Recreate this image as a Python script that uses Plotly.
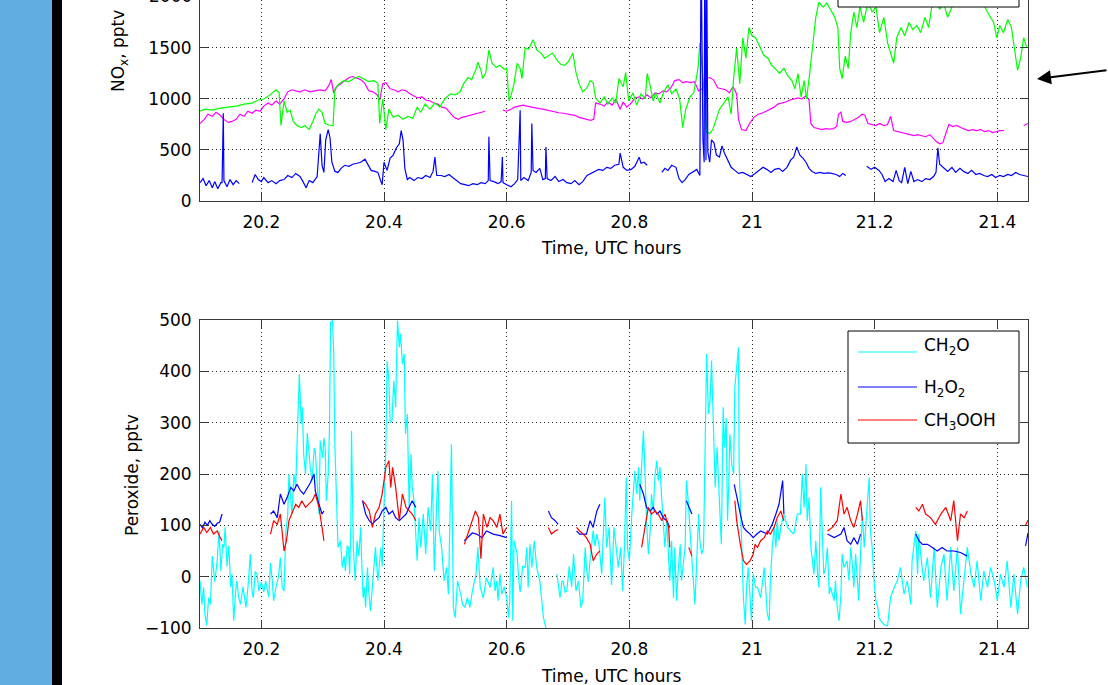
import plotly.graph_objects as go

# ---------------- data ----------------
TICK_X = [20.2, 20.4, 20.6, 20.8, 21.0, 21.2, 21.4]
TICK_X_TEXT = ["20.2", "20.4", "20.6", "20.8", "21", "21.2", "21.4"]
TICK_Y_NOX = [0, 500, 1000, 1500]
TICK_Y_PER = [-100, 0, 100, 200, 300, 400, 500]
X_RANGE = [20.1, 21.45]
NOX_RANGE = [0, 1970]
PER_RANGE = [-100, 500]

NOX_GREEN = [
    (20.100, 880), (20.108, 900), (20.120, 890), (20.133, 910), (20.146, 920), (20.159, 930), (20.172, 950),
    (20.185, 960), (20.195, 990), (20.204, 1000), (20.214, 1040), (20.224, 1090), (20.229, 1060), (20.232, 740),
    (20.237, 980), (20.242, 870), (20.247, 890), (20.252, 780), (20.258, 740), (20.265, 720), (20.271, 740),
    (20.278, 700), (20.284, 780), (20.289, 860), (20.294, 900), (20.299, 870), (20.304, 760), (20.310, 745),
    (20.317, 740), (20.320, 1100), (20.327, 1150), (20.335, 1180), (20.343, 1170), (20.351, 1200), (20.359, 1220),
    (20.368, 1190), (20.375, 1170), (20.384, 1180), (20.390, 1150), (20.393, 760), (20.398, 1000), (20.403, 700),
    (20.408, 900), (20.415, 820), (20.423, 840), (20.431, 800), (20.439, 830), (20.447, 810), (20.454, 920),
    (20.460, 870), (20.467, 950), (20.475, 900), (20.483, 960), (20.491, 920), (20.499, 1000), (20.508, 1050),
    (20.516, 1040), (20.524, 1070), (20.530, 1150), (20.537, 1210), (20.543, 1190), (20.550, 1290), (20.553, 1360),
    (20.558, 1280), (20.561, 1200), (20.566, 1260), (20.571, 1480), (20.576, 1350), (20.583, 1310), (20.589, 1330),
    (20.596, 1290), (20.600, 1300), (20.604, 980), (20.607, 1030), (20.612, 1150), (20.617, 1350), (20.622, 1300),
    (20.625, 1200), (20.630, 1500), (20.636, 1490), (20.643, 1580), (20.649, 1480), (20.656, 1450), (20.662, 1400),
    (20.669, 1430), (20.675, 1450), (20.682, 1380), (20.688, 1340), (20.695, 1330), (20.701, 1370), (20.708, 1450),
    (20.713, 1260), (20.718, 1150), (20.724, 1070), (20.731, 1110), (20.736, 1180), (20.741, 1160), (20.745, 1010),
    (20.752, 960), (20.759, 1020), (20.765, 950), (20.772, 1010), (20.778, 960), (20.783, 1200), (20.790, 1120),
    (20.794, 1260), (20.799, 980), (20.806, 1060), (20.812, 940), (20.819, 1050), (20.826, 1000), (20.829, 1250),
    (20.834, 1130), (20.839, 980), (20.843, 1060), (20.850, 960), (20.856, 1070), (20.863, 1140), (20.869, 1050),
    (20.876, 1100), (20.882, 1000), (20.887, 720), (20.892, 900), (20.899, 1020), (20.905, 1060), (20.912, 1300),
    (20.915, 1550), (20.920, 1250), (20.923, 1000), (20.926, 680), (20.931, 660), (20.936, 700), (20.941, 800),
    (20.947, 900), (20.954, 960), (20.961, 1020), (20.966, 850), (20.970, 1200), (20.975, 1500), (20.980, 1150),
    (20.985, 1600), (20.990, 1400), (20.995, 1700), (21.000, 1620), (21.006, 1600), (21.013, 1500), (21.019, 1430),
    (21.026, 1400), (21.032, 1330), (21.039, 1290), (21.045, 1250), (21.052, 1300), (21.058, 1230), (21.065, 1180),
    (21.070, 1100), (21.075, 1250), (21.080, 1020), (21.085, 1180), (21.089, 1000), (21.094, 1250), (21.099, 1550),
    (21.104, 1800), (21.109, 1950), (21.116, 1900), (21.122, 1940), (21.129, 1870), (21.135, 1800), (21.140, 1700),
    (21.143, 1300), (21.147, 1200), (21.152, 1420), (21.157, 1300), (21.161, 1650), (21.166, 1850), (21.171, 1700),
    (21.176, 1900), (21.182, 1750), (21.189, 1950), (21.196, 1850), (21.202, 1900), (21.208, 1650), (21.215, 1800),
    (21.221, 1550), (21.226, 1450), (21.231, 1350), (21.236, 1600), (21.243, 1700), (21.249, 1620), (21.256, 1750),
    (21.262, 1680), (21.269, 1720), (21.275, 1650), (21.282, 1800), (21.288, 1700), (21.293, 1900), (21.300, 1950),
    (21.306, 1880), (21.313, 1930), (21.319, 1800), (21.326, 1900), (21.332, 1960), (21.339, 1950), (21.347, 1960),
    (21.355, 1940), (21.363, 1960), (21.371, 1950), (21.378, 1920), (21.384, 1850), (21.389, 1800), (21.394, 1750),
    (21.399, 1600), (21.404, 1720), (21.410, 1650), (21.417, 1780), (21.423, 1700), (21.428, 1500), (21.433, 1280),
    (21.438, 1400), (21.443, 1600), (21.448, 1500),
]

NOX_MAGENTA = [
    (20.100, 760), (20.107, 800), (20.113, 850), (20.120, 830), (20.126, 870), (20.133, 840), (20.139, 800),
    (20.146, 770), (20.152, 780), (20.159, 800), (20.165, 850), (20.172, 830), (20.178, 880), (20.185, 860),
    (20.191, 890), (20.198, 880), (20.204, 930), (20.211, 960), (20.217, 940), (20.224, 980), (20.230, 950),
    (20.237, 1000), (20.243, 1070), (20.250, 1090), (20.256, 1080), (20.263, 1070), (20.271, 1090), (20.279, 1070),
    (20.287, 1080), (20.296, 1090), (20.304, 1080), (20.310, 1130), (20.314, 1190), (20.318, 1060), (20.323, 1120),
    (20.330, 1150), (20.336, 1180), (20.343, 1210), (20.349, 1220), (20.356, 1200), (20.362, 1190), (20.369, 1150),
    (20.375, 1080), (20.382, 1070), (20.389, 1040), (20.393, 990), (20.398, 1150), (20.403, 1160), (20.410, 1100),
    (20.416, 1090), (20.423, 1070), (20.429, 1090), (20.436, 1080), (20.442, 1050), (20.449, 1030), (20.455, 1010),
    (20.462, 1020), (20.468, 990), (20.475, 980), (20.481, 960), (20.488, 950), (20.494, 920), (20.501, 910),
    (20.508, 860), (20.514, 820), (20.521, 800), (20.527, 820), (20.534, 830), (20.540, 840), (20.547, 850),
    (20.553, 860), (20.560, 870), (20.565, 880), None,
    (20.594, 890), (20.600, 880), (20.607, 900), (20.613, 920), (20.620, 930), (20.627, 940), (20.633, 930),
    (20.640, 920), (20.646, 910), (20.653, 905), (20.659, 900), (20.666, 890), (20.672, 880), (20.679, 870),
    (20.685, 865), (20.692, 860), (20.698, 855), (20.705, 850), (20.711, 840), (20.718, 820), (20.724, 810),
    (20.731, 800), (20.737, 790), (20.742, 800), (20.745, 960), (20.752, 950), (20.759, 930), (20.765, 970),
    (20.772, 940), (20.778, 1000), (20.785, 900), (20.790, 970), (20.796, 920), (20.803, 960), (20.809, 1010),
    (20.816, 1020), (20.822, 1000), (20.829, 1040), (20.835, 1010), (20.842, 1060), (20.848, 1050), (20.855, 1080),
    (20.861, 1070), (20.868, 1110), (20.874, 1180), (20.881, 1190), (20.887, 1160), (20.893, 1170), (20.900, 1160),
    (20.906, 1170), (20.913, 1080), (20.919, 1100), (20.924, 1200), (20.931, 1210), (20.937, 1190), (20.944, 1110),
    (20.950, 1100), (20.957, 1090), (20.963, 1060), (20.969, 1120), (20.975, 1050), (20.978, 800), (20.983, 700),
    (20.990, 690), (20.996, 760), (21.003, 820), (21.010, 850), (21.016, 860), (21.023, 880), (21.029, 900),
    (21.036, 920), (21.042, 950), (21.049, 960), (21.055, 970), (21.062, 990), (21.068, 1000), (21.075, 1010),
    (21.081, 1000), (21.088, 1030), (21.093, 990), (21.096, 760), (21.101, 720), (21.107, 710), (21.114, 700),
    (21.120, 710), (21.127, 705), (21.133, 710), (21.138, 730), (21.141, 850), (21.145, 870), (21.148, 780),
    (21.154, 770), (21.161, 780), (21.168, 800), (21.174, 820), (21.179, 850), (21.184, 840), (21.189, 760),
    (21.196, 750), (21.202, 740), (21.208, 760), (21.215, 740), (21.221, 750), (21.226, 830), (21.231, 690),
    (21.238, 680), (21.244, 670), (21.251, 660), (21.257, 650), (21.264, 640), (21.270, 650), (21.277, 640),
    (21.283, 630), (21.290, 650), (21.296, 610), (21.301, 580), (21.306, 560), (21.311, 570), (21.316, 660),
    (21.321, 750), (21.327, 730), (21.334, 740), (21.340, 720), (21.347, 700), (21.353, 690), (21.360, 700),
    (21.366, 690), (21.373, 700), (21.379, 680), (21.386, 690), (21.392, 670), (21.399, 680), (21.404, 690),
    (21.411, 690), None,
    (21.443, 740), (21.450, 760),
]

NOX_BLUE = [
    (20.100, 180), (20.105, 220), (20.110, 150), (20.115, 200), (20.120, 130), (20.124, 190), (20.129, 120),
    (20.134, 180), (20.136, 180), (20.138, 860), (20.139, 200), (20.144, 140), (20.149, 210), (20.154, 160),
    (20.159, 200), (20.164, 170), None,
    (20.185, 180), (20.190, 260), (20.195, 210), (20.200, 190), (20.204, 230), (20.211, 180), (20.217, 200),
    (20.224, 170), (20.230, 200), (20.237, 210), (20.243, 250), (20.250, 230), (20.256, 270), (20.263, 240),
    (20.268, 190), (20.273, 130), (20.278, 200), (20.284, 180), (20.291, 240), (20.294, 520), (20.296, 660),
    (20.299, 350), (20.302, 280), (20.305, 600), (20.309, 700), (20.312, 620), (20.315, 380), (20.320, 290),
    (20.325, 280), (20.330, 320), (20.336, 350), (20.343, 340), (20.349, 360), (20.356, 370), (20.362, 380),
    (20.369, 410), (20.374, 360), (20.379, 300), (20.385, 290), (20.390, 280), (20.395, 190), (20.397, 160),
    (20.400, 380), (20.405, 300), (20.410, 420), (20.415, 450), (20.420, 520), (20.425, 560), (20.428, 690),
    (20.431, 600), (20.434, 320), (20.438, 210), (20.442, 230), (20.449, 200), (20.455, 230), (20.462, 220),
    (20.468, 250), (20.475, 230), (20.480, 290), (20.483, 430), (20.486, 250), (20.493, 250), (20.499, 240),
    (20.506, 260), (20.512, 230), (20.519, 200), (20.525, 170), (20.532, 160), (20.538, 150), (20.545, 170),
    (20.552, 160), (20.558, 180), (20.565, 170), (20.570, 200), (20.571, 630), (20.573, 200), (20.579, 190),
    (20.586, 170), (20.591, 190), (20.593, 430), (20.594, 180), (20.600, 160), (20.607, 140), (20.613, 170),
    (20.618, 210), (20.622, 890), (20.623, 200), (20.628, 230), (20.635, 200), (20.640, 280), (20.641, 760),
    (20.643, 300), (20.648, 280), (20.654, 320), (20.659, 210), (20.663, 220), (20.664, 530), (20.666, 220),
    (20.672, 200), (20.679, 240), (20.685, 190), (20.692, 210), (20.698, 180), (20.705, 170), (20.711, 200),
    (20.718, 160), (20.724, 190), (20.731, 250), (20.737, 270), (20.744, 290), (20.750, 310), (20.757, 300),
    (20.763, 330), (20.770, 320), (20.776, 350), (20.783, 360), (20.785, 470), (20.790, 330), (20.796, 300),
    (20.803, 310), (20.809, 340), (20.816, 430), (20.819, 370), (20.824, 380), (20.829, 350), None,
    (20.853, 280), (20.858, 320), (20.863, 300), (20.869, 350), (20.876, 330), (20.881, 220), (20.886, 180),
    (20.891, 210), (20.897, 260), (20.904, 290), (20.910, 310), (20.915, 250), (20.917, 2500), (20.920, 600),
    (20.922, 380), (20.923, 2500), (20.925, 400), (20.926, 2500), (20.928, 480), (20.931, 380), (20.934, 600),
    (20.938, 570), (20.942, 450), (20.947, 430), (20.951, 540), (20.955, 470), (20.960, 410), (20.966, 330),
    (20.972, 300), (20.978, 270), (20.985, 280), (20.991, 260), (20.998, 240), (21.005, 270), (21.011, 300),
    (21.018, 330), (21.024, 310), (21.031, 280), (21.037, 310), (21.044, 320), (21.050, 290), (21.057, 330),
    (21.063, 400), (21.068, 430), (21.073, 530), (21.078, 450), (21.083, 420), (21.088, 380), (21.093, 320),
    (21.098, 290), (21.104, 270), (21.111, 280), (21.117, 270), (21.124, 275), (21.130, 270), (21.137, 260),
    (21.143, 240), (21.148, 270), (21.153, 250), None,
    (21.187, 340), (21.194, 310), (21.200, 330), (21.207, 300), (21.212, 260), (21.217, 190), (21.223, 220),
    (21.230, 190), (21.235, 300), (21.240, 200), (21.244, 180), (21.249, 330), (21.254, 170), (21.259, 290),
    (21.264, 190), (21.270, 210), (21.277, 190), (21.283, 220), (21.290, 210), (21.296, 240), (21.300, 280),
    (21.303, 520), (21.306, 360), (21.313, 320), (21.319, 290), (21.326, 330), (21.332, 280), (21.339, 320),
    (21.345, 290), (21.352, 270), (21.358, 300), (21.365, 260), (21.371, 270), (21.378, 250), (21.384, 240),
    (21.391, 260), (21.397, 230), (21.404, 250), (21.410, 240), (21.417, 260), (21.423, 250), (21.430, 280),
    (21.436, 260), (21.443, 250), (21.450, 240),
]

CH2O = [
    (20.100, -8), (20.103, -54), (20.106, -21), (20.108, -73), (20.111, -95), (20.114, -41), (20.117, -54),
    (20.120, 40), (20.124, -10), (20.128, 31), (20.131, 89), (20.134, 11), (20.137, 63), (20.139, 57),
    (20.141, 96), (20.144, 20), (20.147, 60), (20.150, -20), (20.152, 5), (20.155, -86), (20.158, -30),
    (20.160, -8), (20.163, -40), (20.166, -54), (20.170, -20), (20.175, -60), (20.179, -10), (20.182, 44),
    (20.185, -30), (20.187, -41), (20.190, 10), (20.193, 5), (20.196, -28), (20.200, -10), (20.204, -30),
    (20.207, -8), (20.212, -40), (20.215, 27), (20.218, -10), (20.220, -47), (20.224, -20), (20.228, 0),
    (20.231, 37), (20.234, -20), (20.237, -28), (20.240, 89), (20.243, 120), (20.245, 200), (20.248, 150),
    (20.250, 122), (20.253, 200), (20.256, 174), (20.258, 250), (20.260, 323), (20.262, 395), (20.265, 297),
    (20.267, 330), (20.269, 239), (20.272, 200), (20.275, 280), (20.277, 245), (20.280, 210), (20.283, 187),
    (20.286, 250), (20.288, 245), (20.291, 187), (20.294, 122), (20.296, 265), (20.300, 232), (20.302, 270),
    (20.304, 252), (20.306, 148), (20.309, 200), (20.311, 284), (20.313, 495), (20.316, 499), (20.318, 440),
    (20.320, 252), (20.322, 154), (20.325, 57), (20.329, 70), (20.332, 18), (20.335, 40), (20.337, 11),
    (20.340, 60), (20.342, 57), (20.344, 5), (20.346, 100), (20.347, 284), (20.349, 150), (20.350, 57),
    (20.353, -8), (20.356, 70), (20.359, 40), (20.362, 96), (20.364, 20), (20.366, -41), (20.368, -20),
    (20.370, -60), (20.373, 18), (20.375, -28), (20.378, -67), (20.381, -21), (20.384, 20), (20.386, 57),
    (20.390, -8), (20.393, 30), (20.395, 57), (20.397, 20), (20.399, 89), (20.401, 180), (20.403, 252),
    (20.405, 420), (20.408, 382), (20.410, 300), (20.413, 304), (20.416, 382), (20.419, 330), (20.422, 499),
    (20.425, 447), (20.427, 473), (20.430, 414), (20.433, 434), (20.435, 278), (20.438, 317), (20.441, 135),
    (20.444, 239), (20.446, 174), (20.449, 148), (20.452, 89), (20.454, 31), (20.457, 115), (20.460, 57),
    (20.464, 122), (20.468, 44), (20.472, 135), (20.476, 89), (20.479, 200), (20.482, 11), (20.486, 148),
    (20.488, 206), (20.490, 89), (20.494, 57), (20.498, -8), (20.502, 18), (20.505, -34), (20.507, 63),
    (20.510, 258), (20.512, 57), (20.513, -60), (20.516, -80), (20.520, -8), (20.525, -34), (20.528, -54),
    (20.532, -60), (20.536, -41), (20.540, -60), (20.544, -28), (20.550, 5), (20.553, 57), (20.557, -21),
    (20.562, -41), (20.567, -2), (20.573, -21), (20.578, 18), (20.581, -28), (20.584, -8), (20.586, -47),
    (20.589, 5), (20.592, -34), (20.596, -20), (20.600, -41), (20.603, -80), (20.605, -47), (20.608, 148),
    (20.610, -86), (20.612, 70), (20.615, 57), (20.617, 44), (20.620, -10), (20.622, -30), (20.626, 20),
    (20.630, 18), (20.633, 57), (20.635, -21), (20.638, 63), (20.641, 18), (20.645, 70), (20.649, 18),
    (20.654, -8), (20.657, -47), (20.660, -80), (20.665, -105), None,
    (20.682, 5), (20.685, -20), (20.687, -41), (20.690, -10), (20.692, -8), (20.695, -30), (20.698, -28),
    (20.702, 20), (20.706, -20), (20.709, 44), (20.711, 10), (20.713, -28), (20.717, -8), (20.721, -60),
    (20.724, -47), (20.728, 57), (20.730, 18), (20.733, -10), (20.736, 31), (20.741, 90), (20.744, 60),
    (20.747, 83), (20.751, 57), (20.755, 5), (20.760, 154), (20.763, 57), (20.767, 96), (20.771, -16),
    (20.775, 96), (20.778, 57), (20.782, 18), (20.786, 57), (20.789, -28), (20.792, 57), (20.795, 193),
    (20.797, 57), (20.800, 31), (20.804, 122), (20.807, 187), (20.809, 206), (20.812, 161), (20.815, 213),
    (20.817, 148), (20.820, 226), (20.823, 284), (20.826, 187), (20.828, 109), (20.831, 44), (20.834, 89),
    (20.836, 161), (20.839, 128), (20.842, 200), (20.845, 226), (20.847, 187), (20.850, 213), (20.853, 148),
    (20.855, 109), (20.858, 57), (20.861, 109), (20.864, 44), (20.866, -8), (20.869, 70), (20.872, -41),
    (20.874, 57), (20.877, -47), (20.880, 18), (20.883, 63), (20.885, -8), (20.888, 24), (20.891, 57),
    (20.893, 187), (20.896, 148), (20.899, 89), (20.902, 44), (20.904, -2), (20.907, -54), (20.910, 37),
    (20.913, 122), (20.915, 70), (20.918, 44), (20.921, 57), (20.923, 219), (20.926, 434), (20.929, 317),
    (20.932, 349), (20.934, 421), (20.937, 317), (20.940, 174), (20.943, 252), (20.947, 122), (20.950, 63),
    (20.953, 330), (20.955, 252), (20.958, 309), (20.960, 109), (20.962, 174), (20.964, 278), (20.967, 219),
    (20.970, 200), (20.972, 369), (20.975, 414), (20.978, 447), (20.979, 219), (20.982, 122), (20.983, 57),
    (20.986, -41), (20.989, -93), (20.991, -21), (20.994, 18), (20.997, -60), (20.999, -86), (21.002, 5),
    (21.006, -21), (21.009, -21), (21.014, -41), (21.020, 18), (21.025, -73), (21.028, -86), (21.030, -8),
    (21.033, 57), (21.036, 96), (21.039, 57), (21.041, 109), (21.044, 70), (21.047, 96), (21.052, 122),
    (21.058, 96), (21.063, 89), (21.068, 83), (21.074, 122), (21.079, 122), (21.082, 200), (21.085, 135),
    (21.088, 219), (21.090, 109), (21.093, 154), (21.096, 57), (21.101, 5), (21.104, 70), (21.107, 5),
    (21.109, -21), (21.112, 174), (21.115, 57), (21.117, 5), (21.120, 18), (21.123, 57), (21.126, -34),
    (21.128, -21), (21.134, -47), (21.136, -8), (21.139, -60), (21.142, -86), (21.145, -34), (21.147, 44),
    (21.150, 18), (21.155, 31), (21.158, -8), (21.161, 57), (21.164, 18), (21.166, -21), (21.169, 44),
    (21.172, -8), (21.174, -47), (21.177, 44), (21.180, 122), (21.183, 57), (21.185, 96), (21.188, 148),
    (21.191, 193), (21.193, 89), (21.196, 57), (21.199, -8), (21.202, -47), (21.205, -60), (21.207, -80),
    (21.210, -86), (21.215, -93), (21.221, -96), (21.226, -40), (21.232, -20), (21.237, -8), (21.242, 18),
    (21.248, -34), (21.253, -8), (21.259, -54), (21.261, 31), (21.264, 57), (21.267, 89), (21.270, 5),
    (21.272, 83), (21.275, 44), (21.280, -8), (21.286, 37), (21.291, -41), (21.297, 57), (21.302, -60),
    (21.308, 18), (21.313, 44), (21.318, -47), (21.324, 57), (21.329, -28), (21.335, 57), (21.340, -73),
    (21.346, 5), (21.351, 57), (21.357, 5), (21.362, -21), (21.367, 31), (21.373, -47), (21.378, 11),
    (21.384, -21), (21.389, 18), (21.395, -8), (21.400, -47), (21.405, 5), (21.411, -21), (21.416, 31),
    (21.422, -60), (21.427, 5), (21.433, -73), (21.438, -8), (21.443, 18), (21.449, -21),
]

H2O2 = [
    (20.100, 102), (20.104, 95), (20.108, 106), (20.112, 100), (20.116, 109), (20.120, 102), (20.124, 98),
    (20.128, 104), (20.132, 106), (20.136, 122), None,
    (20.215, 122), (20.220, 128), (20.226, 115), (20.231, 161), (20.237, 141), (20.242, 154), (20.248, 174),
    (20.253, 167), (20.258, 180), (20.264, 167), (20.269, 161), (20.275, 174), (20.280, 183), (20.286, 200),
    (20.288, 167), (20.294, 141), (20.299, 122), (20.302, 128), None,
    (20.365, 148), (20.370, 122), (20.376, 109), (20.381, 102), (20.386, 109), (20.392, 115), (20.397, 128),
    (20.403, 135), (20.408, 122), (20.414, 128), (20.419, 115), (20.425, 109), (20.430, 115), (20.436, 122),
    (20.441, 135), (20.446, 148), (20.452, 135), None,
    (20.531, 70), (20.538, 78), (20.544, 85), (20.551, 83), (20.560, 76), (20.567, 89), (20.578, 83),
    (20.589, 80), (20.600, 76), None,
    (20.668, 128), (20.673, 115), (20.679, 109), (20.684, 102), None,
    (20.714, 89), (20.719, 83), (20.725, 83), (20.730, 83), (20.736, 109), (20.741, 96), (20.747, 128),
    (20.752, 141), None,
    (20.817, 180), (20.823, 161), (20.828, 135), (20.834, 128), (20.839, 135), (20.845, 122), (20.850, 128),
    (20.855, 115), (20.861, 109), (20.866, 96), None,
    (20.893, 148), (20.897, 135), (20.902, 122), None,
    (20.971, 180), (20.975, 154), (20.981, 122), (20.986, 96), (20.991, 89), (20.997, 83), (21.002, 76),
    (21.008, 83), (21.014, 89), (21.025, 83), (21.033, 102), (21.039, 122), (21.044, 141), (21.050, 187),
    (21.052, 122), None,
    (21.123, 83), (21.134, 76), (21.145, 83), (21.150, 96), (21.155, 70), (21.161, 63), (21.166, 76),
    (21.172, 63), (21.177, 83), None,
    (21.267, 83), (21.272, 70), (21.278, 63), (21.286, 63), (21.294, 57), (21.302, 50), (21.310, 57),
    (21.318, 50), (21.329, 50), (21.340, 47), (21.351, 40), None,
    (21.446, 60), (21.450, 85),
]

CH3OOH = [
    (20.100, 83), (20.106, 96), (20.111, 86), (20.117, 96), (20.122, 83), (20.128, 89), (20.133, 76),
    (20.136, 70), None,
    (20.215, 83), (20.220, 109), (20.226, 102), (20.231, 122), (20.237, 50), (20.241, 70), (20.245, 109),
    (20.250, 122), (20.256, 141), (20.261, 135), (20.266, 148), (20.272, 135), (20.277, 141), (20.283, 148),
    (20.288, 161), (20.294, 135), (20.299, 96), (20.302, 70), None,
    (20.365, 148), (20.370, 141), (20.376, 128), (20.381, 96), (20.386, 122), (20.392, 135), (20.397, 161),
    (20.403, 213), (20.408, 226), (20.411, 174), (20.414, 213), (20.419, 174), (20.425, 109), (20.430, 161),
    (20.436, 135), (20.441, 128), (20.446, 122), (20.452, 109), None,
    (20.531, 63), (20.538, 89), (20.549, 128), (20.554, 115), (20.558, 35), (20.562, 122), (20.568, 96),
    (20.573, 115), (20.578, 109), (20.584, 96), (20.589, 122), (20.594, 83), (20.600, 96), None,
    (20.668, 96), (20.673, 83), (20.679, 89), (20.684, 92), None,
    (20.714, 96), (20.719, 89), (20.725, 83), (20.730, 76), (20.736, 63), (20.741, 31), (20.747, 44),
    (20.752, 50), None,
    (20.820, 57), (20.826, 96), (20.831, 135), (20.836, 122), (20.842, 128), (20.847, 122), (20.853, 109),
    (20.858, 122), (20.864, 96), (20.866, 57), None,
    (20.897, 57), (20.902, 40), None,
    (20.972, 148), (20.975, 109), (20.981, 63), (20.986, 31), (20.991, 24), (20.997, 31), (21.002, 44),
    (21.005, 63), (21.009, 57), (21.014, 70), (21.020, 76), (21.025, 89), (21.030, 83), (21.036, 96),
    (21.041, 115), (21.047, 128), (21.052, 109), None,
    (21.123, 89), (21.131, 96), (21.139, 109), (21.145, 161), (21.150, 122), (21.155, 135), (21.161, 109),
    (21.166, 96), (21.172, 122), (21.177, 148), (21.180, 109), None,
    (21.267, 135), (21.272, 128), (21.278, 141), (21.283, 122), (21.291, 115), (21.299, 102), (21.308, 122),
    (21.316, 135), (21.324, 109), (21.329, 148), (21.335, 70), (21.340, 122), (21.346, 115), (21.351, 128),
    None,
    (21.446, 100), (21.450, 110),
]


def split(pairs):
    xs, ys = [], []
    for p in pairs:
        if p is None:
            xs.append(None)
            ys.append(None)
        else:
            xs.append(p[0])
            ys.append(p[1])
    return xs, ys


# ---------------- figure ----------------
W, H = 1108, 685
FONT = "DejaVu Sans"
FS = 17


def px(x):
    return x / W


def py(y):
    return 1 - y / H


fig = go.Figure()

top_series = [(NOX_MAGENTA, "#FF00FF"), (NOX_GREEN, "#00FF00"), (NOX_BLUE, "#0000FF")]
for data, col in top_series:
    xs, ys = split(data)
    fig.add_trace(go.Scatter(x=xs, y=ys, mode="lines", line=dict(color=col, width=1.2),
                             xaxis="x", yaxis="y", showlegend=False, hoverinfo="skip"))

bottom_series = [(CH2O, "#00FFFF"), (H2O2, "#0000FF"), (CH3OOH, "#FF0000")]
for data, col in bottom_series:
    xs, ys = split(data)
    fig.add_trace(go.Scatter(x=xs, y=ys, mode="lines", line=dict(color=col, width=1.2),
                             xaxis="x2", yaxis="y2", showlegend=False, hoverinfo="skip"))

AX_COL = "#3a3a3a"
GRID = dict(showgrid=True, gridcolor="#222222", griddash="1px,3px", gridwidth=1, zeroline=False,
            automargin=False)
common_x = dict(tickvals=TICK_X, ticktext=TICK_X_TEXT, range=X_RANGE, showline=True, linecolor=AX_COL,
                linewidth=1, ticks="inside", ticklen=8, tickcolor=AX_COL,
                tickfont=dict(family=FONT, size=FS, color="black"), ticklabelstandoff=6, **GRID)
common_y = dict(showline=True, linecolor=AX_COL, linewidth=1, ticks="inside", ticklen=8, tickcolor=AX_COL,
                mirror="ticks", tickfont=dict(family=FONT, size=FS, color="black"), ticklabelstandoff=4, **GRID)

x0d, x1d = px(200), px(1028)
fig.update_layout(
    template="none",
    width=W, height=H, autosize=False,
    margin=dict(l=0, r=0, t=0, b=0, pad=0, autoexpand=False),
    paper_bgcolor="white", plot_bgcolor="white",
    font=dict(family=FONT, size=FS, color="black"),
    xaxis=dict(domain=[x0d, x1d], anchor="y", mirror=False, **common_x),
    yaxis=dict(domain=[py(201), 1.0], anchor="x", range=NOX_RANGE, tickvals=TICK_Y_NOX, **common_y),
    xaxis2=dict(domain=[x0d, x1d], anchor="y2", mirror="ticks", **common_x),
    yaxis2=dict(domain=[py(628), py(320)], anchor="x2", range=PER_RANGE, tickvals=TICK_Y_PER, **common_y),
    showlegend=False,
)

shapes = [
    # left page decorations
    dict(type="rect", xref="paper", yref="paper", x0=0, x1=px(52), y0=0, y1=1,
         fillcolor="#60ADE2", line=dict(width=0), layer="above"),
    dict(type="rect", xref="paper", yref="paper", x0=px(52), x1=px(62), y0=0, y1=1,
         fillcolor="#000000", line=dict(width=0), layer="above"),
    # top legend box (cut off)
    dict(type="rect", xref="paper", yref="paper", x0=px(838), x1=px(1019), y0=py(7), y1=py(-20),
         fillcolor="white", line=dict(color="black", width=1), layer="above"),
    # bottom legend box
    dict(type="rect", xref="paper", yref="paper", x0=px(848), x1=px(1019), y0=py(443), y1=py(331),
         fillcolor="white", line=dict(color="black", width=1), layer="above"),
]
legend_items = [("CH<sub>2</sub>O", "#00FFFF", 352, 346), ("H<sub>2</sub>O<sub>2</sub>", "#0000FF", 387, 388),
                ("CH<sub>3</sub>OOH", "#FF0000", 420, 421)]
annotations = []
for label, col, ly, ty in legend_items:
    shapes.append(dict(type="line", xref="paper", yref="paper", x0=px(858), x1=px(917), y0=py(ly), y1=py(ly),
                       line=dict(color=col, width=1), layer="above"))
    annotations.append(dict(text=label, xref="paper", yref="paper", x=px(922), y=py(ty), xanchor="left",
                            yanchor="middle", showarrow=False, font=dict(family=FONT, size=FS, color="black")))

annotations += [
    dict(text="NO<sub>x</sub>, pptv", xref="paper", yref="paper", x=px(120), y=py(51), textangle=-90,
         xanchor="center", yanchor="middle", showarrow=False, font=dict(family=FONT, size=FS)),
    dict(text="Peroxide, pptv", xref="paper", yref="paper", x=px(132), y=py(475), textangle=-90,
         xanchor="center", yanchor="middle", showarrow=False, font=dict(family=FONT, size=FS)),
    dict(text="Time, UTC hours", xref="paper", yref="paper", x=px(611), y=py(248),
         xanchor="center", yanchor="middle", showarrow=False, font=dict(family=FONT, size=FS)),
    dict(text="Time, UTC hours", xref="paper", yref="paper", x=px(611), y=py(676),
         xanchor="center", yanchor="middle", showarrow=False, font=dict(family=FONT, size=FS)),
    dict(text="2000", xref="paper", yref="paper", x=px(194), y=py(-4),
         xanchor="right", yanchor="middle", showarrow=False, font=dict(family=FONT, size=FS)),
    dict(text="", xref="paper", yref="paper", x=px(1037), y=py(79), showarrow=True,
         axref="pixel", ayref="pixel", ax=72, ay=-9, arrowhead=2, arrowsize=1.4, arrowwidth=2,
         arrowcolor="black"),
]

fig.update_layout(shapes=shapes, annotations=annotations)
fig.write_html(
    "out.html",
    config={"displayModeBar": False, "responsive": False},
    post_script=(
        "var d=document.getElementById('{plot_id}');"
        "d.style.position='fixed';d.style.top='0px';d.style.left='0px';"
        "document.documentElement.style.margin='0';document.documentElement.style.overflow='hidden';"
        "document.body.style.margin='0';document.body.style.padding='0';document.body.style.overflow='hidden';"
    ),
)
